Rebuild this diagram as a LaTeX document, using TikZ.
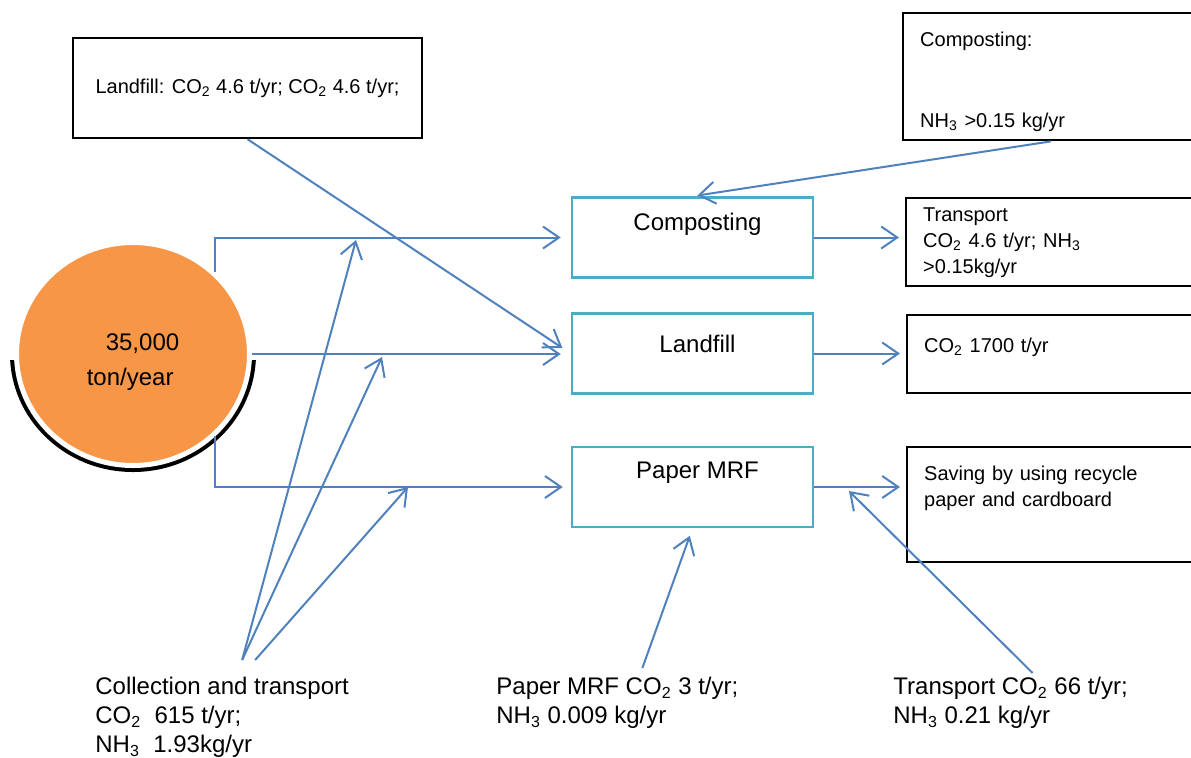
\documentclass[tikz,border=0pt]{standalone}
\usepackage{fontspec}
\setmainfont{Liberation Sans}
\usetikzlibrary{arrows.meta,positioning,calc,shapes.geometric}
\definecolor{srcorange}{HTML}{F79646}
\definecolor{stageteal}{HTML}{4BACC6}
\definecolor{flowblue}{HTML}{4F81BD}
\newcommand{\COtwo}{CO\textsubscript{2}}
\newcommand{\NHthree}{NH\textsubscript{3}}
\newcommand{\stagefont}{\fontsize{12}{14.5}\selectfont}
\newcommand{\boxfont}{\fontsize{10}{13}\selectfont}
\tikzset{%
  stage/.style={draw=stageteal,line width=1.25pt,minimum width=120.5pt,minimum height=40pt,inner sep=0pt,
    label={[font=\stagefont,anchor=north,inner sep=0pt,yshift=-8pt,xshift=2.5pt]north:#1}},
  note/.style={draw,line width=1.2pt,font=\boxfont,align=left},
  side/.style={note,anchor=north west,inner xsep=8.5pt,text width=130.5pt},
  arrow/.style={draw=flowblue,line width=1pt,-{Straight Barb[length=8pt,width=11pt]}}%
}

\begin{document}
\begin{tikzpicture}[x=0.5pt,y=-0.5pt,
    src/.style={ellipse,fill=srcorange,draw=white,line width=2.5pt,minimum width=116.5pt,
      minimum height=111.5pt,inner sep=0pt,align=left,font=\stagefont},
    figtext/.style={anchor=north west,inner sep=0pt,align=left,font=\stagefont}
]
\useasboundingbox (0,0) rectangle (1191,757);

% Waste source with its shadow
\begin{scope}
  \clip (0,360) rectangle (270,490);
  \fill[black] (133,354) ellipse[x radius=61.5pt,y radius=59pt];
\end{scope}
\node[src] (src) at (133,354) {\rule{0pt}{16.6pt}\hspace{9.5pt}35,000\\[3pt]ton/year};

% Treatment stages
\node[stage=Composting] (comp) at (692.5,237.5) {};
\node[stage={\rule{0pt}{11.8pt}Landfill}] (land) at (692.5,353.5) {};
\node[stage=Paper MRF] (paper) at (692.5,487) {};

% Emission boxes
\node[note,minimum width=174.5pt,minimum height=50pt] (lfnote) at (247.5,88)
  {Landfill: \COtwo{} 4.6 t/yr; \COtwo{} 4.6 t/yr;};
\node[side,minimum height=63.5pt] (compnote) at (902,12)
  {\rule{0pt}{12.3pt}Composting:\\[27.5pt]\NHthree{} >0.15 kg/yr};
\node[side,minimum height=44pt] (trans) at (905,197)
  {Transport\\\COtwo{} 4.6 t/yr; \NHthree\\>0.15kg/yr};
\node[side,minimum height=39pt] (fill) at (906,314) {\COtwo{} 1700 t/yr\\[-4pt]\mbox{}};
\node[side,minimum height=57.5pt] (saving) at (906,446)
  {Saving by using recycle\\paper and cardboard\\[5pt]\mbox{}};

% Transport and processing texts
\node[figtext] (coll) at (95,677)
  {Collection and transport\\\COtwo~ 615 t/yr;\\\NHthree~ 1.93kg/yr};
\node[figtext] (mrf) at (496,677) {Paper MRF \COtwo{} 3 t/yr;\\\NHthree{} 0.009 kg/yr};
\node[figtext] (tr) at (893,677) {Transport \COtwo{} 66 t/yr;\\\NHthree{} 0.21 kg/yr};

\coordinate (collA) at ([shift={(10pt,8.5pt)}]coll.north);
\coordinate (collB) at ([shift={(16.5pt,8.5pt)}]coll.north);
\coordinate (mrfA) at ([shift={(12.5pt,4.5pt)}]mrf.north);
\coordinate (trA) at ([shift={(11pt,2pt)}]tr.north);
\coordinate (tipA) at (356,240);
\coordinate (tipB) at (382,357);
\coordinate (tipC) at (408,487);
\coordinate (tipD) at (849,491);

% Flows
\draw[arrow,shorten >=5pt] (src.45) |- (comp.west);
\draw[arrow,shorten >=5pt] (src.east) -- (src.east -| land.west);
\draw[arrow,shorten >=4pt] (src.-45) |- (paper.west);
\draw[arrow,shorten >=5pt] (lfnote.south) -- (land.west);
\draw[arrow,shorten >=2.5pt] (compnote.south) -- (comp.north);
\draw[arrow,shorten >=3pt] (comp.east) -- (comp.east -| trans.west);
\draw[arrow,shorten >=3pt] (land.east) -- (land.east -| fill.west);
\draw[arrow,shorten >=3pt] (paper.east) -- (paper.east -| saving.west);
\draw[arrow] (collA) -- (tipA);
\draw[arrow] (collA) -- (tipB);
\draw[arrow] (collB) -- (tipC);
\draw[arrow,shorten >=4pt] (mrfA) -- (paper.south);
\draw[arrow] (trA) -- (tipD);
\end{tikzpicture}
\end{document}
